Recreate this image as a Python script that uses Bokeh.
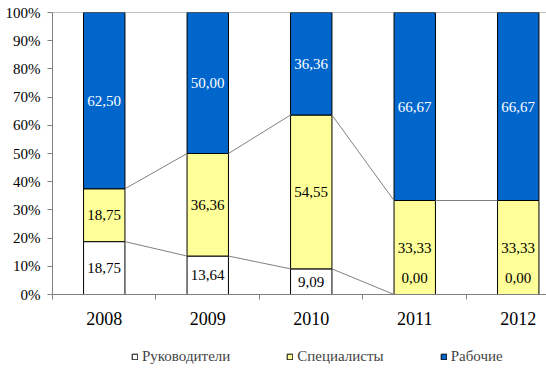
from bokeh.plotting import figure
from bokeh.layouts import column
from bokeh.models import (Range1d, FixedTicker, PrintfTickFormatter, Legend, LegendItem,
                          ColumnDataSource, Span)
from bokeh.core.properties import value
from bokeh.embed import file_html
from bokeh.resources import INLINE

years = ["2008", "2009", "2010", "2011", "2012"]
series_names = ["Руководители", "Специалисты", "Рабочие"]
managers = [18.75, 13.64, 9.09, 0.00, 0.00]
specialists = [18.75, 36.36, 54.55, 33.33, 33.33]
workers = [62.50, 50.00, 36.36, 66.67, 66.67]
y_ticks = [0, 10, 20, 30, 40, 50, 60, 70, 80, 90, 100]

colors = ["#FFFFFF", "#FFFF99", "#0066CC"]
label_colors = ["black", "black", "white"]
FONT = "Liberation Serif"
BAR_W = 0.4
W = 546

xs = list(range(len(years)))
p = figure(width=W, height=330, output_backend="svg", toolbar_location=None,
           x_range=Range1d(-0.5, 4.273), y_range=Range1d(0, 100),
           min_border_left=52, min_border_right=0, min_border_top=12, min_border_bottom=36)
p.outline_line_color = None
p.grid.grid_line_color = None
p.background_fill_color = "white"

# top border line of plot area
p.add_layout(Span(location=100, dimension="width", line_color="#808080", line_width=1, level="underlay"))

series = [managers, specialists, workers]
bottoms = [0.0] * len(xs)
tops_per_series = []
sources = []
for name, vals, col in zip(series_names, series, colors):
    tops = [b + v for b, v in zip(bottoms, vals)]
    src = ColumnDataSource(dict(
        x=xs, bottom=bottoms, top=tops,
        mid=[(b + t) / 2 for b, t in zip(bottoms, tops)],
        txt=[f"{v:.2f}".replace(".", ",") for v in vals],
        yoff=[-17 if v == 0 else 0 for v in vals],
    ))
    p.vbar(x="x", bottom="bottom", top="top", width=BAR_W, source=src,
           fill_color=col, line_color="black", line_width=1)
    sources.append(src)
    tops_per_series.append(tops)
    bottoms = tops

# series lines between bars
for tops in tops_per_series[:2]:
    x0s = [x + BAR_W / 2 for x in xs[:-1]]
    x1s = [x + 1 - BAR_W / 2 for x in xs[:-1]]
    p.segment(x0=x0s, y0=tops[:-1], x1=x1s, y1=tops[1:], line_color="#808080", line_width=1)

# data labels (drawn after all bars)
for src, lcol in zip(sources, label_colors):
    p.text(x="x", y="mid", text="txt", source=src, y_offset="yoff",
           text_font=value(FONT), text_font_size="15px", text_color=lcol,
           text_align="center", text_baseline="middle")

# axes
xa = p.xaxis[0]
xa.ticker = FixedTicker(ticks=xs, minor_ticks=[x - 0.5 for x in xs] + [xs[-1] + 0.5])
xa.major_label_overrides = {x: y for x, y in zip(xs, years)}
xa.major_tick_line_color = None
xa.major_tick_out = 0
xa.major_tick_in = 0
xa.minor_tick_out = 5
xa.minor_tick_in = 0
xa.minor_tick_line_color = "#808080"
xa.axis_line_color = "#808080"
xa.major_label_text_font = FONT
xa.major_label_text_font_size = "18px"
xa.major_label_text_color = "black"
xa.major_label_standoff = 12

ya = p.yaxis[0]
ya.ticker = FixedTicker(ticks=y_ticks)
ya.formatter = PrintfTickFormatter(format="%d%%")
ya.major_tick_out = 5
ya.major_tick_in = 0
ya.minor_tick_line_color = None
ya.major_tick_line_color = "#808080"
ya.axis_line_color = "#808080"
ya.major_label_text_font = FONT
ya.major_label_text_font_size = "15px"
ya.major_label_text_color = "black"
ya.major_label_standoff = 7

# legend in its own small figure (frame aligned with the chart's frame)
lg = figure(width=W, height=37, output_backend="svg", toolbar_location=None,
            x_range=Range1d(0, 1), y_range=Range1d(0, 1),
            min_border_left=52, min_border_right=0, min_border_top=0, min_border_bottom=0,
            x_axis_type=None, y_axis_type=None)
lg.outline_line_color = None
lg.grid.grid_line_color = None
items = []
for name, col in zip(series_names, colors):
    # hidden placeholder glyph (outside the visible range) used only for the legend swatch
    r = lg.vbar(x=[-10], top=[0], width=0.1, fill_color=col, line_color="black", line_width=1)
    items.append(LegendItem(label=name, renderers=[r]))
legend = Legend(items=items, orientation="horizontal", location=(79, 2), spacing=56,
                padding=0, margin=0, glyph_width=7, glyph_height=7, label_standoff=4,
                label_text_font=FONT, label_text_font_size="15px", label_height=16,
                border_line_color=None, background_fill_alpha=0)
lg.add_layout(legend, "center")

layout = column(p, lg, spacing=0)
open("out.html", "w").write(file_html(layout, INLINE))
